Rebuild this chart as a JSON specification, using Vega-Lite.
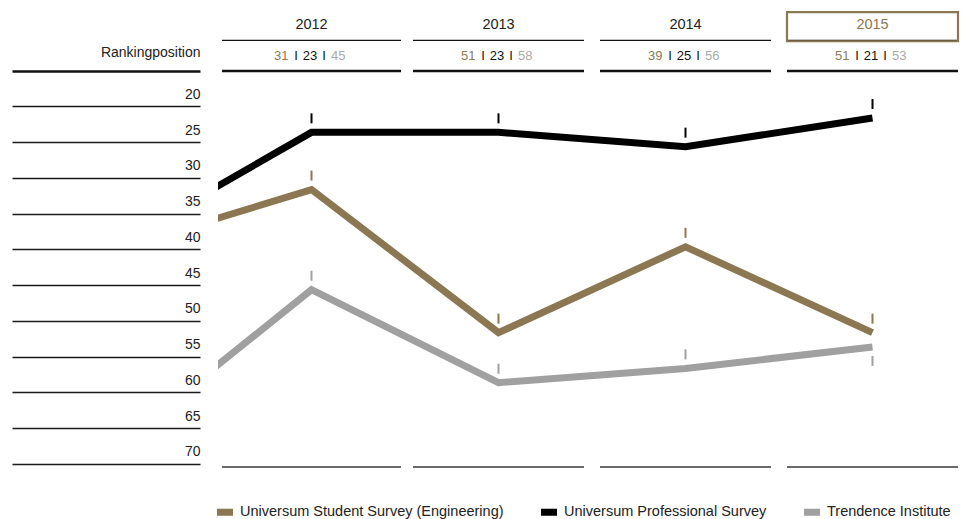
{
  "$schema": "https://vega.github.io/schema/vega-lite/v6.json",
  "width": 748,
  "height": 519,
  "autosize": {"type": "none"},
  "padding": {"left": 218, "top": 0, "right": 0, "bottom": 0},
  "background": "white",
  "config": {
    "view": {"stroke": null},
    "font": "Liberation Sans",
    "text": {"font": "Liberation Sans"},
    "tick": {"opacity": 1},
    "point": {"opacity": 1}
  },
  "datasets": {
    "ranks": [
      {"series": "Universum Student Survey (Engineering)", "year": 2011, "rank": 39},
      {"series": "Universum Student Survey (Engineering)", "year": 2012, "rank": 31},
      {"series": "Universum Student Survey (Engineering)", "year": 2013, "rank": 51},
      {"series": "Universum Student Survey (Engineering)", "year": 2014, "rank": 39},
      {"series": "Universum Student Survey (Engineering)", "year": 2015, "rank": 51},
      {"series": "Universum Professional Survey", "year": 2011, "rank": 38},
      {"series": "Universum Professional Survey", "year": 2012, "rank": 23},
      {"series": "Universum Professional Survey", "year": 2013, "rank": 23},
      {"series": "Universum Professional Survey", "year": 2014, "rank": 25},
      {"series": "Universum Professional Survey", "year": 2015, "rank": 21},
      {"series": "Trendence Institute", "year": 2011, "rank": 66},
      {"series": "Trendence Institute", "year": 2012, "rank": 45},
      {"series": "Trendence Institute", "year": 2013, "rank": 58},
      {"series": "Trendence Institute", "year": 2014, "rank": 56},
      {"series": "Trendence Institute", "year": 2015, "rank": 53}
    ],
    "header": [
      {"year": 2012, "student": 31, "professional": 23, "trendence": 45},
      {"year": 2013, "student": 51, "professional": 23, "trendence": 58},
      {"year": 2014, "student": 39, "professional": 25, "trendence": 56},
      {"year": 2015, "student": 51, "professional": 21, "trendence": 53}
    ]
  },
  "resolve": {"scale": {"y": "independent"}, "axis": {"y": "independent"}},
  "layer": [
    {
      "encoding": {
        "x": {"field": "year", "type": "quantitative", "scale": {"domain": [2011.5, 2015.5], "nice": false, "zero": false}, "axis": null}
      },
      "layer": [
        {
          "data": {"name": "header"},
          "mark": {"type": "tick", "orient": "horizontal", "thickness": 2, "color": "#6a6a6a", "opacity": 1},
          "encoding": {
            "y": {"datum": 70, "type": "quantitative",
              "scale": {"domain": [4.5, 77.05], "reverse": true, "nice": false, "zero": false},
              "axis": {"orient": "left", "offset": 18, "values": [20, 25, 30, 35, 40, 45, 50, 55, 60, 65, 70], "format": "d", "domain": false, "grid": false, "ticks": true, "tickSize": 188, "tickWidth": 1.3, "tickColor": "#1a1a1a", "tickOffset": -4.6, "labelOffset": -12, "labelPadding": -188, "labelAlign": "right", "labelBaseline": "middle", "labelFontSize": 14, "labelColor": "#222222", "labelFont": "Liberation Sans", "labelOverlap": false, "labelFlush": false, "title": null}},
            "yOffset": {"value": -1.5},
            "size": {"condition": {"test": "datum.year == 2012", "value": 179}, "value": 171}
          }
        },
        {
          "data": {"name": "ranks"},
          "mark": {"type": "line", "strokeWidth": 7, "clip": true, "strokeJoin": "miter", "strokeCap": "butt"},
          "encoding": {
            "y": {"field": "rank", "type": "quantitative",
              "scale": {"domain": [4.5, 77.05], "reverse": true, "nice": false, "zero": false},
              "axis": {"orient": "left", "offset": 18, "values": [20, 25, 30, 35, 40, 45, 50, 55, 60, 65, 70], "format": "d", "domain": false, "grid": false, "ticks": true, "tickSize": 188, "tickWidth": 1.3, "tickColor": "#1a1a1a", "tickOffset": -4.6, "labelOffset": -12, "labelPadding": -188, "labelAlign": "right", "labelBaseline": "middle", "labelFontSize": 14, "labelColor": "#222222", "labelFont": "Liberation Sans", "labelOverlap": false, "labelFlush": false, "title": null}},
            "color": {"field": "series", "type": "nominal",
              "scale": {"domain": ["Universum Student Survey (Engineering)", "Universum Professional Survey", "Trendence Institute"], "range": ["#8b7752", "#000000", "#a0a0a0"]},
              "legend": {"orient": "none", "legendX": -1, "legendY": 504, "direction": "horizontal", "title": null, "symbolType": "M-1,-0.44H1V0.44H-1Z", "symbolSize": 256, "symbolStrokeWidth": 0, "labelFontSize": 14.5, "labelFont": "Liberation Sans", "labelColor": "#222222", "columnPadding": 37, "labelOffset": 7, "padding": 0, "labelLimit": 0,
                "encode": {"symbols": {"update": {"fill": {"scale": "color", "field": "value"}, "stroke": {"value": "transparent"}}}}}
            }
          }
        },
        {
          "data": {"name": "ranks"},
          "transform": [{"filter": "datum.year >= 2012 && !(datum.series == 'Trendence Institute' && datum.year == 2015)"}],
          "mark": {"type": "tick", "orient": "vertical", "thickness": 2, "opacity": 1},
          "encoding": {
            "y": {"field": "rank", "type": "quantitative",
              "scale": {"domain": [4.5, 77.05], "reverse": true, "nice": false, "zero": false},
              "axis": {"orient": "left", "offset": 18, "values": [20, 25, 30, 35, 40, 45, 50, 55, 60, 65, 70], "format": "d", "domain": false, "grid": false, "ticks": true, "tickSize": 188, "tickWidth": 1.3, "tickColor": "#1a1a1a", "tickOffset": -4.6, "labelOffset": -12, "labelPadding": -188, "labelAlign": "right", "labelBaseline": "middle", "labelFontSize": 14, "labelColor": "#222222", "labelFont": "Liberation Sans", "labelOverlap": false, "labelFlush": false, "title": null}},
            "yOffset": {"value": -14},
            "size": {"value": 10},
            "color": {"field": "series", "type": "nominal",
              "scale": {"domain": ["Universum Student Survey (Engineering)", "Universum Professional Survey", "Trendence Institute"], "range": ["#8b7752", "#000000", "#a0a0a0"]}, "legend": null}
          }
        },
        {
          "data": {"name": "ranks"},
          "transform": [{"filter": "datum.series == 'Trendence Institute' && datum.year == 2015"}],
          "mark": {"type": "tick", "orient": "vertical", "thickness": 2, "opacity": 1},
          "encoding": {
            "y": {"field": "rank", "type": "quantitative",
              "scale": {"domain": [4.5, 77.05], "reverse": true, "nice": false, "zero": false},
              "axis": {"orient": "left", "offset": 18, "values": [20, 25, 30, 35, 40, 45, 50, 55, 60, 65, 70], "format": "d", "domain": false, "grid": false, "ticks": true, "tickSize": 188, "tickWidth": 1.3, "tickColor": "#1a1a1a", "tickOffset": -4.6, "labelOffset": -12, "labelPadding": -188, "labelAlign": "right", "labelBaseline": "middle", "labelFontSize": 14, "labelColor": "#222222", "labelFont": "Liberation Sans", "labelOverlap": false, "labelFlush": false, "title": null}},
            "yOffset": {"value": 14},
            "size": {"value": 10},
            "color": {"field": "series", "type": "nominal",
              "scale": {"domain": ["Universum Student Survey (Engineering)", "Universum Professional Survey", "Trendence Institute"], "range": ["#8b7752", "#000000", "#a0a0a0"]}, "legend": null}
          }
        }
      ]
    },
    {
      "data": {"name": "header"},
      "encoding": {
        "x": {"field": "year", "type": "quantitative", "scale": {"domain": [2011.5, 2015.5], "nice": false, "zero": false}, "axis": null}
      },
      "layer": [
        {
          "mark": {"type": "tick", "orient": "horizontal", "thickness": 2.5, "color": "#111111", "opacity": 1},
          "encoding": {
            "y": {"datum": "thick", "type": "nominal",
              "scale": {"type": "point", "domain": ["year", "thin", "values", "thick"], "range": [25, 71], "padding": 0},
              "axis": {"orient": "left", "offset": 18, "values": ["thick"], "domain": false, "labels": false, "ticks": true, "tickSize": 188, "tickWidth": 2.5, "tickColor": "#111111", "grid": false, "title": "Rankingposition", "titleAngle": 0, "titleAlign": "right", "titleBaseline": "middle", "titleX": 0, "titleY": 52, "titleFontSize": 14, "titleFontWeight": "normal", "titleFont": "Liberation Sans", "titleColor": "#222222", "titlePadding": 0}},
            "size": {"condition": {"test": "datum.year == 2012", "value": 179}, "value": 171}
          }
        },
        {
          "mark": {"type": "tick", "orient": "horizontal", "thickness": 1.2, "color": "#111111", "opacity": 1},
          "encoding": {
            "y": {"datum": "thin", "type": "nominal",
              "scale": {"type": "point", "domain": ["year", "thin", "values", "thick"], "range": [25, 71], "padding": 0}},
            "size": {"condition": {"test": "datum.year == 2012", "value": 179}, "value": 171}
          }
        },
        {
          "mark": {"type": "text", "fontSize": 14.5, "baseline": "middle", "align": "center"},
          "encoding": {
            "y": {"datum": "year", "type": "nominal",
              "scale": {"type": "point", "domain": ["year", "thin", "values", "thick"], "range": [25, 71], "padding": 0}},
            "text": {"field": "year", "type": "nominal"},
            "color": {"condition": {"test": "datum.year == 2015", "value": "#8b7752"}, "value": "#222222"}
          }
        },
        {
          "transform": [{"filter": "datum.year == 2015"}],
          "mark": {"type": "point", "shape": "M-1,-0.15H1V0.19H-1Z", "size": 29241, "filled": false, "stroke": "#8b7752", "strokeWidth": 2.2, "opacity": 1},
          "encoding": {
            "y": {"datum": "year", "type": "nominal",
              "scale": {"type": "point", "domain": ["year", "thin", "values", "thick"], "range": [25, 71], "padding": 0}}
          }
        },
        {
          "mark": {"type": "text", "fontSize": 13, "baseline": "middle", "align": "center", "dx": -1.5, "color": "#111111"},
          "encoding": {
            "y": {"datum": "values", "type": "nominal",
              "scale": {"type": "point", "domain": ["year", "thin", "values", "thick"], "range": [25, 71], "padding": 0}},
            "text": {"field": "professional", "type": "nominal"}
          }
        },
        {
          "mark": {"type": "text", "fontSize": 13, "baseline": "middle", "align": "right", "dx": -23, "color": "#8f7b55"},
          "encoding": {
            "y": {"datum": "values", "type": "nominal",
              "scale": {"type": "point", "domain": ["year", "thin", "values", "thick"], "range": [25, 71], "padding": 0}},
            "text": {"field": "student", "type": "nominal"}
          }
        },
        {
          "mark": {"type": "text", "fontSize": 13, "baseline": "middle", "align": "left", "dx": 19.5, "color": "#aaaaaa"},
          "encoding": {
            "y": {"datum": "values", "type": "nominal",
              "scale": {"type": "point", "domain": ["year", "thin", "values", "thick"], "range": [25, 71], "padding": 0}},
            "text": {"field": "trendence", "type": "nominal"}
          }
        },
        {
          "mark": {"type": "text", "fontSize": 13, "baseline": "middle", "align": "center", "dx": -15.5, "color": "#111111"},
          "encoding": {
            "y": {"datum": "values", "type": "nominal",
              "scale": {"type": "point", "domain": ["year", "thin", "values", "thick"], "range": [25, 71], "padding": 0}},
            "text": {"value": "I"}
          }
        },
        {
          "mark": {"type": "text", "fontSize": 13, "baseline": "middle", "align": "center", "dx": 12.5, "color": "#111111"},
          "encoding": {
            "y": {"datum": "values", "type": "nominal",
              "scale": {"type": "point", "domain": ["year", "thin", "values", "thick"], "range": [25, 71], "padding": 0}},
            "text": {"value": "I"}
          }
        }
      ]
    }
  ]
}
